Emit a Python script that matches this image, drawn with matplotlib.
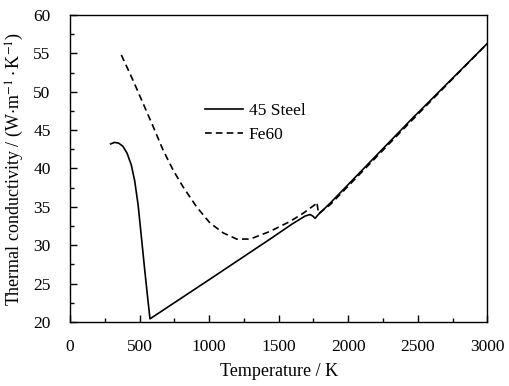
import matplotlib

matplotlib.use("Agg")
import matplotlib.pyplot as plt
from matplotlib.ticker import MultipleLocator

# 45 Steel (solid)
steel_t = [292, 320, 350, 380, 410, 440, 465, 490, 513, 537, 558, 575,
           1000, 1438, 1600, 1690, 1726, 1745, 1762, 1780, 1871, 2448, 3000]
steel_k = [43.2, 43.4, 43.3, 42.9, 42.0, 40.5, 38.4, 35.2, 31.1, 26.8, 23.2, 20.4,
           25.5, 30.8, 32.8, 33.8, 34.0, 33.8, 33.5, 33.9, 35.5, 46.3, 56.3]

# Fe60 (dashed)
fe_t = [369, 453, 525, 597, 669, 741, 813, 910, 1006, 1102, 1198, 1294,
        1438, 1582, 1679, 1762, 1775, 1786, 1871, 2448, 3000]
fe_k = [54.8, 51.5, 48.5, 45.5, 42.4, 39.8, 37.6, 35.0, 32.9, 31.6, 30.8, 30.8,
        31.8, 33.1, 34.2, 35.3, 35.6, 34.1, 35.3, 46.1, 56.3]

plt.rcParams["font.family"] = ["Liberation Serif", "DejaVu Serif"]
plt.rcParams["mathtext.fontset"] = "stix"

fig = plt.figure(figsize=(5.09, 3.86), dpi=100)
ax = fig.add_axes([0.1375, 0.166, 0.82, 0.795])

ax.plot(steel_t, steel_k, color="black", lw=1.2, label="45 Steel")
ax.plot(fe_t, fe_k, color="black", lw=1.2, dashes=(4, 2.5), label="Fe60")

ax.set_xlim(0, 3000)
ax.set_ylim(20, 60)
ax.xaxis.set_major_locator(MultipleLocator(500))
ax.xaxis.set_minor_locator(MultipleLocator(250))
ax.yaxis.set_major_locator(MultipleLocator(5))
ax.yaxis.set_minor_locator(MultipleLocator(2.5))
ax.tick_params(which="both", direction="in", labelsize=12.5, width=1)
ax.tick_params(which="major", length=5)
ax.tick_params(axis="x", which="major", pad=12)
ax.tick_params(axis="y", which="major", pad=14)
ax.tick_params(which="minor", length=3)
for s in ax.spines.values():
    s.set_linewidth(1)

ax.set_xlabel("Temperature / K", fontsize=13, labelpad=6)
ax.set_ylabel(r"Thermal conductivity / (W$\cdot$m$^{-1}\cdot$K$^{-1}$)", fontsize=13, labelpad=5)

ax.legend(loc="upper left", bbox_to_anchor=(0.324, 0.715), frameon=False, fontsize=12.5,
          handlelength=2.2, handletextpad=0.3, borderpad=0, borderaxespad=0,
          labelspacing=0.45)

fig.savefig("out.png", dpi=100)
